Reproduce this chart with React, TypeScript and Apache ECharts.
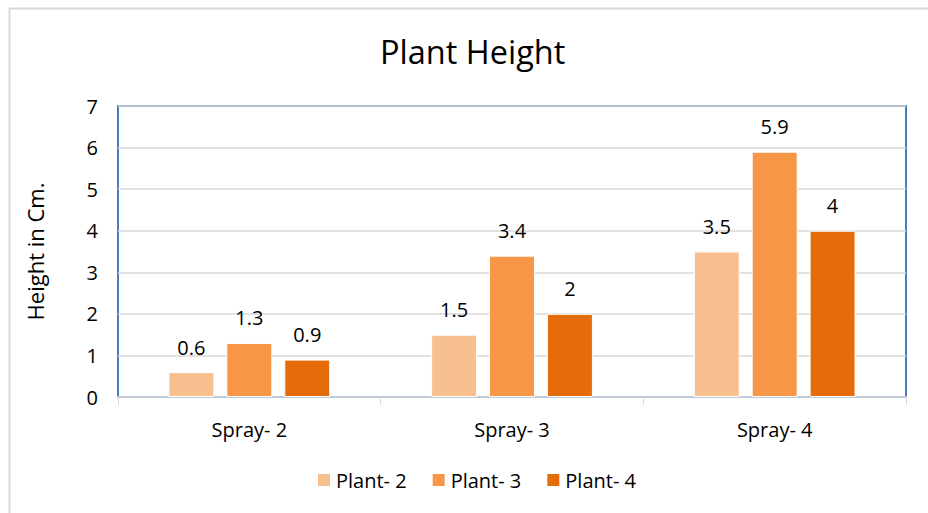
import React, { useEffect, useRef } from "react";
import * as echarts from "echarts";

const categories = ["Spray- 2", "Spray- 3", "Spray- 4"];
const plant2 = [0.6, 1.5, 3.5];
const plant3 = [1.3, 3.4, 5.9];
const plant4 = [0.9, 2, 4];
const seriesNames = ["Plant- 2", "Plant- 3", "Plant- 4"];
const colors = ["#F9C08F", "#F79646", "#E46C0A"];

const FONT = "'Open Sans', 'Noto Sans', sans-serif";

export default function App() {
  const ref = useRef<HTMLDivElement>(null);
  useEffect(() => {
    document.body.style.margin = "0";
    const chart = echarts.init(ref.current!, null, { renderer: "svg" });
    const values = [plant2, plant3, plant4];
    chart.setOption({
      animation: false,
      backgroundColor: "#fff",
      textStyle: { fontFamily: FONT },
      graphic: [
        {
          type: "rect",
          shape: { x: 9.5, y: 8.5, width: 940, height: 520 },
          style: { fill: "none", stroke: "#D9D9D9", lineWidth: 2 },
          silent: true,
        },
      ],
      title: {
        text: "Plant Height",
        left: 375,
        top: 30,
        textStyle: { fontSize: 32.5, fontWeight: "normal", color: "#000", fontFamily: FONT },
      },
      legend: {
        bottom: 23,
        left: 316,
        padding: 0,
        itemWidth: 14,
        itemHeight: 14,
        itemGap: 24,
        icon: "rect",
        textStyle: { fontSize: 20, color: "#000", fontFamily: FONT },
        data: seriesNames,
      },
      grid: {
        left: 118,
        right: 22,
        top: 106,
        bottom: 116,
        show: true,
        borderColor: "#4A7EBB",
        borderWidth: 2,
      },
      xAxis: {
        type: "category",
        data: categories,
        axisLine: { lineStyle: { color: "#BFCAD8", width: 2 } },
        axisTick: { show: true, length: 8, lineStyle: { color: "#D9D9D9" } },
        axisLabel: { fontSize: 20, color: "#000", margin: 22, fontFamily: FONT },
      },
      yAxis: {
        type: "value",
        min: 0,
        max: 7,
        interval: 1,
        name: "Height in Cm.",
        nameLocation: "middle",
        nameGap: 72,
        nameTextStyle: { fontSize: 22, color: "#000", fontFamily: FONT },
        axisLine: { show: false },
        axisTick: { show: false },
        splitLine: { lineStyle: { color: "#D9D9D9", width: 1.5 } },
        axisLabel: { fontSize: 20, color: "#000", margin: 20, fontFamily: FONT },
      },
      series: values.map((v, i) => ({
        name: seriesNames[i],
        type: "bar",
        data: v,
        barWidth: "17.5%",
        barGap: "26%",
        itemStyle: { color: colors[i], borderColor: "#FFFFFF", borderWidth: 1 },
        label: {
          show: true,
          position: "top",
          distance: 15,
          fontSize: 20,
          color: "#000",
          fontFamily: FONT,
        },
      })),
    });
    return () => chart.dispose();
  }, []);
  return (
    <div
      ref={ref}
      style={{ position: "absolute", left: 0, top: 0, width: 928, height: 513 }}
    />
  );
}
